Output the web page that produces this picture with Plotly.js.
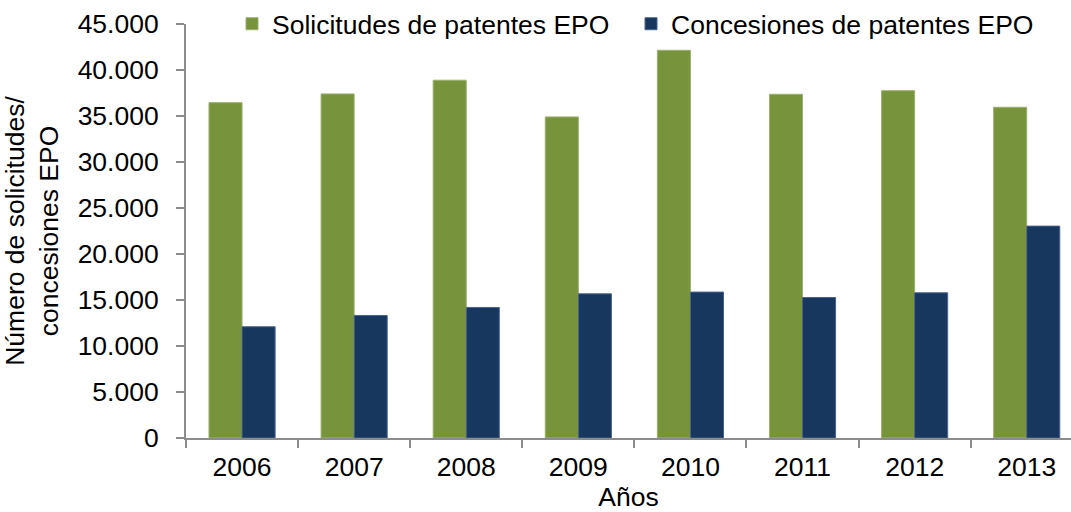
<!DOCTYPE html>
<html>
<head>
<meta charset="utf-8">
<script src="https://cdn.plot.ly/plotly-3.0.1.min.js"></script>
<style>
  html, body { margin: 0; padding: 0; background: #fff; }
  #chart { width: 1071px; height: 512px; }
</style>
</head>
<body>
<div id="chart"></div>
<script>
  // Years on the category axis
  const years = ["2006", "2007", "2008", "2009", "2010", "2011", "2012", "2013"];

  // EPO patent applications and grants
  const solicitudes = [36450, 37400, 38890, 34900, 42140, 37360, 37750, 35950];
  const concesiones = [12090, 13320, 14190, 15670, 15860, 15270, 15780, 23030];

  const axisGrey = "#8C8C8C";
  const font = { family: "Liberation Sans, Arial, sans-serif", size: 26.5, color: "#000" };

  const traces = [
    {
      type: "bar",
      name: "Solicitudes de patentes EPO",
      x: years,
      y: solicitudes,
      legendwidth: 354,
      marker: { color: "#77933C", line: { color: "#9DB06E", width: 1 } }
    },
    {
      type: "bar",
      name: "Concesiones de patentes EPO",
      x: years,
      y: concesiones,
      legendwidth: 380,
      marker: { color: "#17375E", line: { color: "#4A6388", width: 1 } }
    }
  ];

  const layout = {
    width: 1071,
    height: 512,
    margin: { l: 186, r: 0, t: 24, b: 74 },
    paper_bgcolor: "#fff",
    plot_bgcolor: "#fff",
    font: font,
    separators: ",.",
    barmode: "group",
    bargap: 0.41,
    bargroupgap: 0,
    showlegend: true,
    legend: {
      orientation: "h",
      x: 0.052,
      xanchor: "left",
      y: 1,
      yanchor: "middle",
      bgcolor: "rgba(0,0,0,0)",
      font: font
    },
    xaxis: {
      type: "category",
      range: [-0.5, 7.395],
      showline: true,
      linecolor: axisGrey,
      linewidth: 2,
      ticks: "outside",
      tickson: "boundaries",
      ticklen: 8,
      tickwidth: 2,
      tickcolor: axisGrey,
      showgrid: false,
      zeroline: false,
      tickfont: font,
      ticklabelstandoff: 4,
      title: { text: "Años", font: font, standoff: 0 }
    },
    yaxis: {
      range: [0, 45000],
      dtick: 5000,
      tickformat: ",d",
      showline: true,
      linecolor: axisGrey,
      linewidth: 2,
      ticks: "outside",
      ticklen: 8,
      tickwidth: 2,
      tickcolor: axisGrey,
      showgrid: false,
      zeroline: false,
      tickfont: font,
      ticklabelstandoff: 12,
      title: { text: "Número de solicitudes/<br>concesiones EPO", font: font, standoff: 16 }
    }
  };

  Plotly.newPlot("chart", traces, layout, { staticPlot: true, displayModeBar: false });
</script>
</body>
</html>
